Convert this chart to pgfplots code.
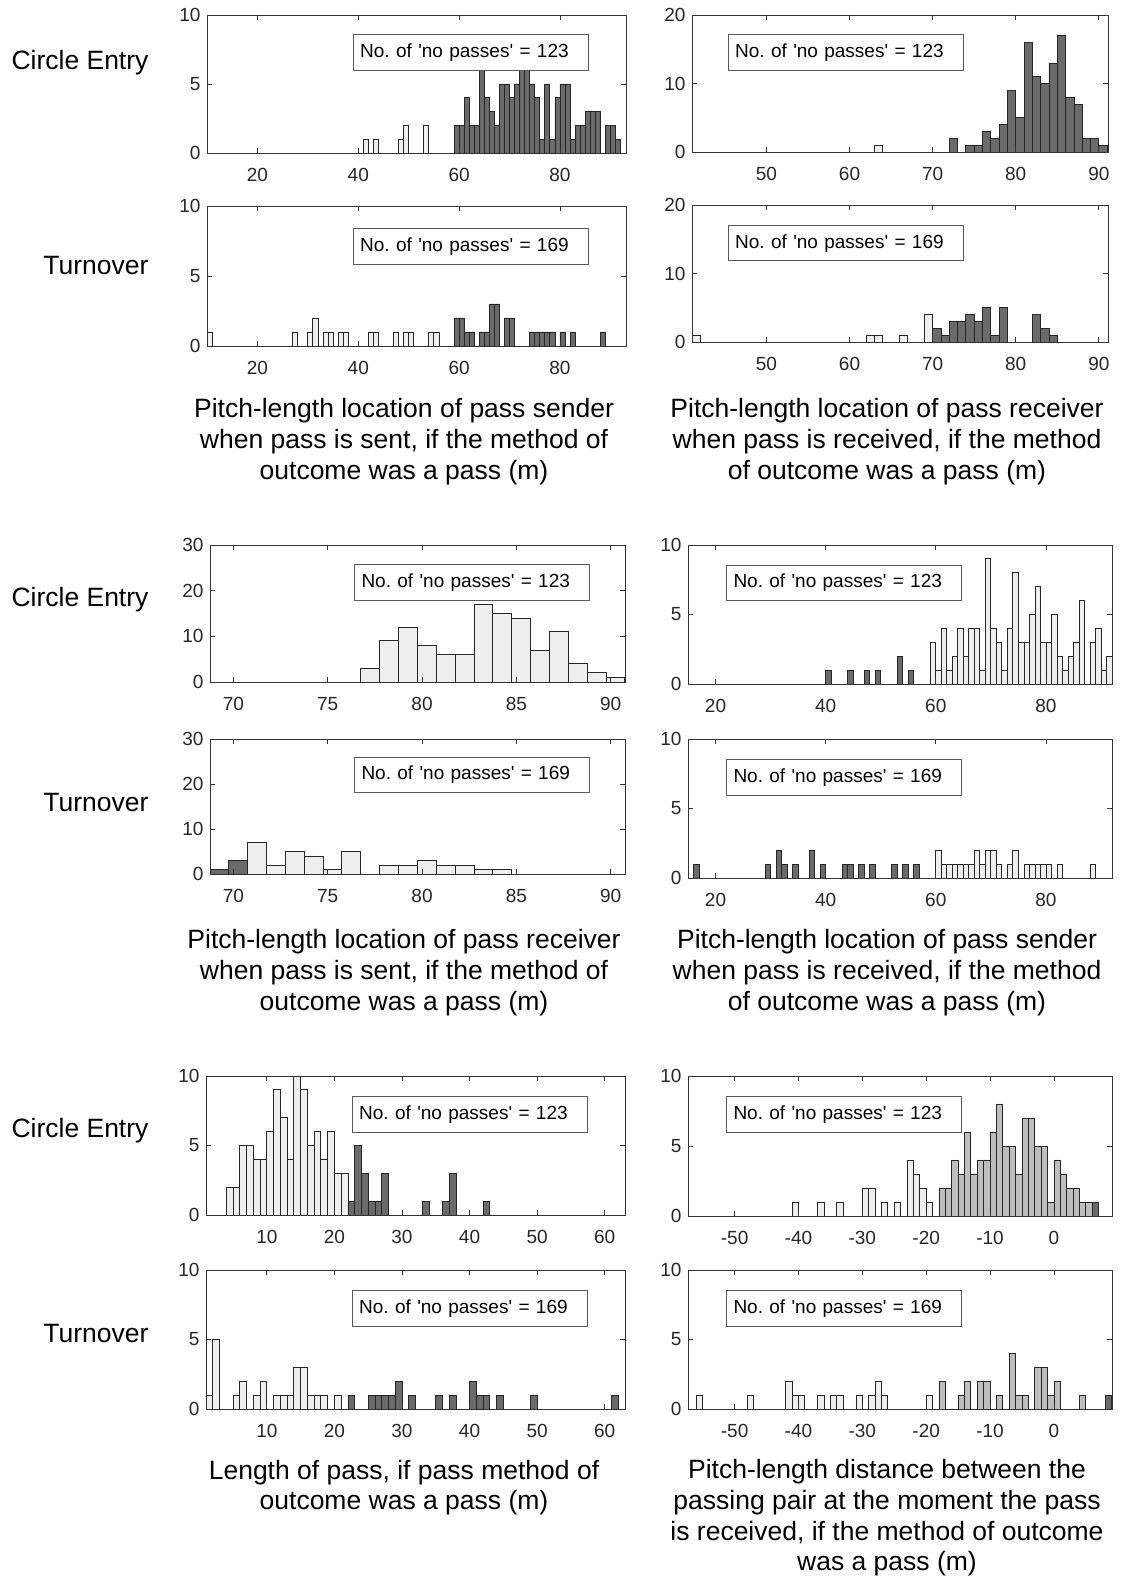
\documentclass[border=0pt]{standalone}
\usepackage{pgfplots}
\pgfplotsset{compat=1.18}
\usepackage{fontspec}
\setmainfont{Liberation Sans}
\frenchspacing
\definecolor{dk}{HTML}{6A6A6A}
\definecolor{lt}{HTML}{EFEFEF}
\definecolor{md}{HTML}{BEBEBE}
\newcommand\tickfont{\fontsize{19}{22}\selectfont}
\newcommand\capfont{\fontsize{26.5}{30.7}\selectfont}
\pgfplotsset{
  hist/.style={scale only axis, anchor=south west, ymin=0, axis on top,
    tick align=inside, major tick length=5pt,
    tick style={line width=0.8pt, black!80},
    axis line style={line width=0.8pt, black!80},
    ticklabel style={font=\tickfont, text=black!85},
    xticklabel style={yshift=-11.5pt}, yticklabel style={xshift=-3pt},
    /pgf/number format/assume math mode=true},
  bars/.style={ybar, bar width=1, bar shift=0pt, draw=black!85, line width=0.8pt, fill=#1},
}
\tikzset{nbox/.style={draw=black!65, line width=1pt, fill=white, anchor=north west,
   font=\tickfont, text width=221pt, align=left, inner xsep=7pt, inner ysep=0pt,
   minimum height=35.5pt}}
\newcommand\nopass[1]{No.\ of \textquotesingle no passes\textquotesingle{} = #1}
\begin{document}
\begin{tikzpicture}[x=1pt,y=1pt]
\useasboundingbox (0,0) rectangle (1120,1577);
% ---------- Block 1 ----------
\begin{axis}[hist, at={(207pt,1424pt)}, width=419pt, height=138pt, xmin=10, xmax=93.1, ymax=10,
  xtick={20,40,60,80}, ytick={0,5,10}]
\addplot[bars=lt] coordinates {(41.5,1)(43.5,1)(48.5,1)(49.5,2)(53.5,2)};
\addplot[bars=dk] coordinates {(59.5,2)(60.5,2)(61.5,4)(62.5,2)(63.5,2)(64.5,6)(65.5,4)(66.5,3)(67.5,2)(68.5,5)(69.5,5)(70.5,4)(71.5,5)(72.5,6)(73.5,6)(74.5,5)(75.5,4)(76.5,1)(77.5,5)(78.5,1)(79.5,4)(80.5,5)(81.5,5)(82.5,1)(83.5,2)(84.5,2)(85.5,3)(86.5,3)(87.5,3)(89.5,2)(90.5,2)(91.5,1)};
\end{axis}
\begin{axis}[hist, at={(692pt,1425pt)}, width=416pt, height=137pt, xmin=41.05, xmax=91.1, ymax=20,
  xtick={50,60,70,80,90}, ytick={0,10,20}]
\addplot[bars=lt] coordinates {(63.5,1)};
\addplot[bars=dk] coordinates {(72.5,2)(74.5,1)(75.5,1)(76.5,3)(77.5,2)(78.5,4)(79.5,9)(80.5,5)(81.5,16)(82.5,11)(83.5,10)(84.5,13)(85.5,17)(86.5,8)(87.5,7)(88.5,2)(89.5,2)(90.5,1)};
\end{axis}
\begin{axis}[hist, at={(207pt,1231pt)}, width=419pt, height=140pt, xmin=10, xmax=93.1, ymax=10,
  xtick={20,40,60,80}, ytick={0,5,10}]
\addplot[bars=lt] coordinates {(10.5,1)(27.5,1)(30.5,1)(31.5,2)(33.5,1)(34.5,1)(36.5,1)(37.5,1)(42.5,1)(43.5,1)(47.5,1)(49.5,1)(50.5,1)(54.5,1)(55.5,1)};
\addplot[bars=dk] coordinates {(59.5,2)(60.5,2)(61.5,1)(62.5,1)(64.5,1)(65.5,1)(66.5,3)(67.5,3)(69.5,2)(70.5,2)(74.5,1)(75.5,1)(76.5,1)(77.5,1)(78.5,1)(80.5,1)(82.5,1)(88.5,1)};
\end{axis}
\begin{axis}[hist, at={(692pt,1235pt)}, width=416pt, height=137pt, xmin=41.05, xmax=91.1, ymax=20,
  xtick={50,60,70,80,90}, ytick={0,10,20}]
\addplot[bars=lt] coordinates {(41.5,1)(62.5,1)(63.5,1)(66.5,1)(69.5,4)};
\addplot[bars=dk] coordinates {(70.5,2)(71.5,1)(72.5,3)(73.5,3)(74.5,4)(75.5,3)(76.5,5)(77.5,1)(78.5,5)(82.5,4)(83.5,2)(84.5,1)};
\end{axis}
% ---------- Block 2 ----------
\begin{axis}[hist, at={(210pt,895pt)}, width=415pt, height=137pt, xmin=68.76, xmax=90.76, ymax=30,
  xtick={70,75,80,85,90}, ytick={0,10,20,30}]
\addplot[bars=lt] coordinates {(77.25,3)(78.25,9)(79.25,12)(80.25,8)(81.25,6)(82.25,6)(83.25,17)(84.25,15)(85.25,14)(86.25,7)(87.25,11)(88.25,4)(89.25,2)(90.25,1)};
\end{axis}
\begin{axis}[hist, at={(688pt,893pt)}, width=424pt, height=139pt, xmin=15, xmax=92, ymax=10,
  xtick={20,40,60,80}, ytick={0,5,10}]
\addplot[bars=dk] coordinates {(40.5,1)(44.5,1)(47.5,1)(49.5,1)(53.5,2)(55.5,1)};
\addplot[bars=lt] coordinates {(59.5,3)(60.5,1)(61.5,4)(62.5,1)(63.5,2)(64.5,4)(65.5,2)(66.5,4)(67.5,4)(68.5,1)(69.5,9)(70.5,4)(71.5,3)(72.5,1)(73.5,4)(74.5,8)(75.5,3)(76.5,3)(77.5,5)(78.5,7)(79.5,3)(80.5,3)(81.5,5)(82.5,2)(83.5,1)(84.5,2)(85.5,3)(86.5,6)(88.5,3)(89.5,4)(90.5,1)(91.5,2)};
\end{axis}
\begin{axis}[hist, at={(210pt,703pt)}, width=415pt, height=135pt, xmin=68.76, xmax=90.76, ymax=30,
  xtick={70,75,80,85,90}, ytick={0,10,20,30}]
\addplot[bars=dk] coordinates {(69.25,1)(70.25,3)};
\addplot[bars=lt] coordinates {(71.25,7)(72.25,2)(73.25,5)(74.25,4)(75.25,1)(76.25,5)(78.25,2)(79.25,2)(80.25,3)(81.25,2)(82.25,2)(83.25,1)(84.25,1)};
\end{axis}
\begin{axis}[hist, at={(688pt,699pt)}, width=424pt, height=139pt, xmin=15, xmax=92, ymax=10,
  xtick={20,40,60,80}, ytick={0,5,10}]
\addplot[bars=dk] coordinates {(16.5,1)(29.5,1)(31.5,2)(32.5,1)(34.5,1)(37.5,2)(39.5,1)(43.5,1)(44.5,1)(46.5,1)(48.5,1)(52.5,1)(54.5,1)(56.5,1)};
\addplot[bars=lt] coordinates {(60.5,2)(61.5,1)(62.5,1)(63.5,1)(64.5,1)(65.5,1)(66.5,1)(67.5,2)(68.5,1)(69.5,2)(70.5,2)(71.5,1)(73.5,1)(74.5,2)(76.5,1)(77.5,1)(78.5,1)(79.5,1)(80.5,1)(82.5,1)(88.5,1)};
\end{axis}
% ---------- Block 3 ----------
\begin{axis}[hist, at={(206pt,362pt)}, width=419pt, height=139pt, xmin=1, xmax=63, ymax=10,
  xtick={10,20,30,40,50,60}, ytick={0,5,10}]
\addplot[bars=lt] coordinates {(4.5,2)(5.5,2)(6.5,5)(7.5,5)(8.5,4)(9.5,4)(10.5,6)(11.5,9)(12.5,7)(13.5,4)(14.5,10)(15.5,9)(16.5,5)(17.5,6)(18.5,4)(19.5,6)(20.5,3)(21.5,3)};
\addplot[bars=dk] coordinates {(22.5,1)(23.5,5)(24.5,3)(25.5,1)(26.5,1)(27.5,3)(33.5,1)(36.5,1)(37.5,3)(42.5,1)};
\end{axis}
\begin{axis}[hist, at={(688pt,361pt)}, width=424pt, height=140pt, xmin=-57.3, xmax=9.1, ymax=10,
  xtick={-50,-40,-30,-20,-10,0}, ytick={0,5,10}]
\addplot[bars=lt] coordinates {(-40.5,1)(-36.5,1)(-33.5,1)(-29.5,2)(-28.5,2)(-26.5,1)(-24.5,1)(-22.5,4)(-21.5,3)(-20.5,2)(-19.5,1)};
\addplot[bars=md] coordinates {(-17.5,2)(-16.5,2)(-15.5,4)(-14.5,3)(-13.5,6)(-12.5,3)(-11.5,4)(-10.5,4)(-9.5,6)(-8.5,8)(-7.5,5)(-6.5,5)(-5.5,3)(-4.5,7)(-3.5,7)(-2.5,5)(-1.5,5)(-0.5,1)(0.5,4)(1.5,3)(2.5,2)(3.5,2)(4.5,1)(5.5,1)};
\addplot[bars=dk] coordinates {(6.5,1)};
\end{axis}
\begin{axis}[hist, at={(206pt,168pt)}, width=419pt, height=139pt, xmin=1, xmax=63, ymax=10,
  xtick={10,20,30,40,50,60}, ytick={0,5,10}]
\addplot[bars=lt] coordinates {(1.5,1)(2.5,5)(5.5,1)(6.5,2)(8.5,1)(9.5,2)(11.5,1)(12.5,1)(13.5,1)(14.5,3)(15.5,3)(16.5,1)(17.5,1)(18.5,1)(20.5,1)};
\addplot[bars=dk] coordinates {(22.5,1)(25.5,1)(26.5,1)(27.5,1)(28.5,1)(29.5,2)(31.5,1)(35.5,1)(37.5,1)(40.5,2)(41.5,1)(42.5,1)(44.5,1)(49.5,1)(61.5,1)};
\end{axis}
\begin{axis}[hist, at={(688pt,168pt)}, width=424pt, height=139pt, xmin=-57.3, xmax=9.1, ymax=10,
  xtick={-50,-40,-30,-20,-10,0}, ytick={0,5,10}]
\addplot[bars=lt] coordinates {(-55.5,1)(-47.5,1)(-41.5,2)(-40.5,1)(-39.5,1)(-36.5,1)(-34.5,1)(-33.5,1)(-30.5,1)(-28.5,1)(-27.5,2)(-26.5,1)(-19.5,1)};
\addplot[bars=md] coordinates {(-17.5,2)(-14.5,1)(-13.5,2)(-11.5,2)(-10.5,2)(-8.5,1)(-6.5,4)(-5.5,1)(-4.5,1)(-2.5,3)(-1.5,3)(-0.5,1)(0.5,2)(4.5,1)};
\addplot[bars=dk] coordinates {(8.5,1)};
\end{axis}
% ---------- boxes ----------
\node[nbox] at (352.7,1542.7) {\nopass{123}};
\node[nbox] at (727.7,1542.7) {\nopass{123}};
\node[nbox] at (352.7,1348.7) {\nopass{169}};
\node[nbox] at (727.7,1352) {\nopass{169}};
\node[nbox] at (354,1012.7) {\nopass{123}};
\node[nbox] at (726,1012.3) {\nopass{123}};
\node[nbox] at (354,820.3) {\nopass{169}};
\node[nbox] at (726,817.7) {\nopass{169}};
\node[nbox] at (351.7,480.7) {\nopass{123}};
\node[nbox] at (726,480.7) {\nopass{123}};
\node[nbox] at (351.7,286.7) {\nopass{169}};
\node[nbox] at (726,286.7) {\nopass{169}};
% ---------- row labels and captions ----------
\begin{scope}[every node/.style={font=\capfont, text=black}]
\node at (80,1514) {Circle Entry};
\node at (96,1311) {Turnover};
\node at (80,977) {Circle Entry};
\node at (96,774) {Turnover};
\node at (80,446) {Circle Entry};
\node at (96,243) {Turnover};
\node[align=center] at (404,1135.5) {Pitch-length location of pass sender\\when pass is sent, if the method of\\outcome was a pass (m)};
\node[align=center] at (887,1135.5) {Pitch-length location of pass receiver\\when pass is received, if the method\\of outcome was a pass (m)};
\node[align=center] at (404,604.5) {Pitch-length location of pass receiver\\when pass is sent, if the method of\\outcome was a pass (m)};
\node[align=center] at (887,604.5) {Pitch-length location of pass sender\\when pass is received, if the method\\of outcome was a pass (m)};
\node[align=center] at (404,89.5) {Length of pass, if pass method of\\outcome was a pass (m)};
\node[align=center] at (887,59) {Pitch-length distance between the\\passing pair at the moment the pass\\is received, if the method of outcome\\was a pass (m)};
\end{scope}
\end{tikzpicture}
\end{document}
